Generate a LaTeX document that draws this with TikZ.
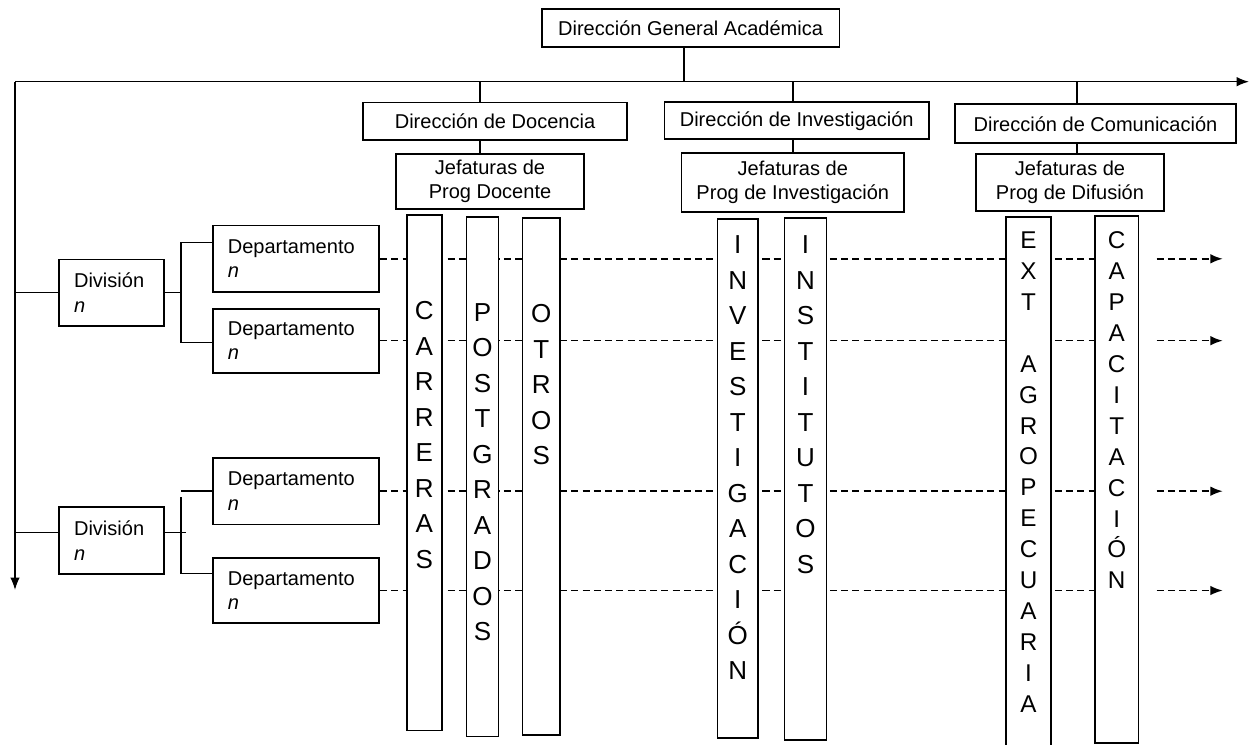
\documentclass[tikz,border=0pt]{standalone}
\usepackage{fontspec}
\setmainfont{Liberation Sans}
\usetikzlibrary{arrows.meta, backgrounds}
\tikzset{>={Latex[length=7pt, width=5.4pt]}}
\tikzset{
caja/.style = {draw, line width=1pt, fill=white, inner sep=0pt, align=center, font=\fontsize{11.4}{14}\selectfont},
cajaizq/.style = {caja, align=left},
columna/.style = {draw, line width=1pt, fill=white, inner sep=0pt},
letras/.style = {inner sep=0pt, align=center, anchor=north, font=\fontsize{14.8}{20.2}\selectfont},
letrasch/.style = {letras, font=\fontsize{13.8}{17.6}\selectfont},
punteada/.style = {dash pattern=on 4pt off 2.4pt, line width=0.9pt}
}
\begin{document}
\begin{tikzpicture}[x=0.02cm, y=-0.02cm, line width=0.9pt]
\useasboundingbox (0,0) rectangle (1250,744);
% direcciones
\node[caja, minimum width=5.96cm, minimum height=0.75cm] (dga) at (690.6,28) {Dirección General Académica};
\node[caja, minimum width=5.29cm, minimum height=0.75cm] (doc) at (495,121.2) {Dirección de Docencia};
\node[caja, minimum width=5.29cm, minimum height=0.74cm] (inv) at (796.7,120.8) {Dirección de Investigación};
\node[caja, minimum width=5.62cm, minimum height=0.78cm] (com) at (1095.5,123.8) {Dirección de Comunicación};
\node[caja, minimum width=3.77cm, minimum height=1.1cm] (jdoc) at (490,181.5) {Jefaturas de\\Prog Docente};
\node[caja, minimum width=4.45cm, minimum height=1.19cm] (jinv) at (792.8,182.5) {Jefaturas de\\Prog de Investigación};
\node[caja, minimum width=3.77cm, minimum height=1.14cm] (jcom) at (1070,182.5) {Jefaturas de\\Prog de Difusión};
% barra principal
\coordinate (izq) at (15,81.7);
\coordinate (der) at (1249,81.7);
\coordinate (fin) at (15,590);
\draw[->] (izq) -- (der);
\draw[->] (izq) -- (fin);
\coordinate (p0) at (684,81.7);
\coordinate (p1) at (480,81.7);
\coordinate (p2) at (793,81.7);
\coordinate (p3) at (1076.7,81.7);
\draw (dga.south -| p0) -- (p0);
\draw (p1) -- (p1 |- doc.north) (p1 |- doc.south) -- (p1 |- jdoc.north);
\draw (p2) -- (p2 |- inv.north) (p2 |- inv.south) -- (p2 |- jinv.north);
\draw (p3) -- (p3 |- com.north) (p3 |- com.south) -- (p3 |- jcom.north);
% divisiones y departamentos
\node[cajaizq, text width=1.51cm, minimum width=2.1cm, minimum height=1.33cm] (div1) at (111.8,292.7) {División\\\textit{n}};
\node[cajaizq, text width=1.51cm, minimum width=2.1cm, minimum height=1.33cm] (div2) at (111.8,540.5) {División\\\textit{n}};
\node[cajaizq, text width=2.74cm, minimum width=3.32cm, minimum height=1.33cm] (dep1) at (296.3,258.8) {Departamento\\\textit{n}};
\node[cajaizq, text width=2.74cm, minimum width=3.32cm, minimum height=1.28cm] (dep2) at (296.3,340.7) {Departamento\\\textit{n}};
\node[cajaizq, text width=2.74cm, minimum width=3.32cm, minimum height=1.33cm] (dep3) at (296.3,491.2) {Departamento\\\textit{n}};
\node[cajaizq, text width=2.74cm, minimum width=3.32cm, minimum height=1.31cm] (dep4) at (296.3,590.5) {Departamento\\\textit{n}};
\coordinate (e2) at (15,532.3);
\coordinate (r1) at (181,242.7);
\coordinate (r2) at (181,342.3);
\coordinate (r3) at (181,491);
\coordinate (r4) at (181,497.3);
\coordinate (r5) at (181,573.3);
\coordinate (s2) at (185.7,532.3);
\draw (izq |- div1.west) -- (div1.west);
\draw (e2) -- (e2 -| div2.west);
\draw (div1.east) -- (div1.east -| r1);
\draw (r1 -| dep1.west) -- (r1) -- (r2) -- (r2 -| dep2.west);
\draw (s2 -| div2.east) -- (s2);
\draw (r3) -- (r3 -| dep3.west);
\draw (r4) -- (r5) -- (r5 -| dep4.west);
% columnas
\node[columna, minimum width=0.70cm, minimum height=10.31cm] (carreras) at (424.2,472.8) {};
\node[columna, minimum width=0.64cm, minimum height=10.39cm] (postgrados) at (482.6,476.8) {};
\node[columna, minimum width=0.75cm, minimum height=10.34cm] (otros) at (541.3,476.5) {};
\node[columna, minimum width=0.81cm, minimum height=10.38cm] (investigacion) at (737.7,478.5) {};
\node[columna, minimum width=0.84cm, minimum height=10.44cm] (institutos) at (805.5,479) {};
\node[columna, minimum width=0.90cm, minimum height=10.58cm] (ext) at (1028.5,481.5) {};
\node[columna, minimum width=0.87cm, minimum height=10.54cm] (capacitacion) at (1116.7,479.2) {};
\node[letras] (tcarreras) at (424.2,301) {C\\A\\R\\R\\E\\R\\A\\S};
\node[letras] (tpostgrados) at (482.6,302.4) {P\\O\\S\\T\\G\\R\\A\\D\\O\\S};
\node[letras] (totros) at (541.3,304) {O\\T\\R\\O\\S};
\node[letras] (tinvestigacion) at (737.7,235) {I\\N\\V\\E\\S\\T\\I\\G\\A\\C\\I\\Ó\\N};
\node[letras] (tinstitutos) at (805.5,235) {I\\N\\S\\T\\I\\T\\U\\T\\O\\S};
\node[letrasch] (text) at (1028.5,231) {E\\X\\T\\~\\A\\G\\R\\O\\P\\E\\C\\U\\A\\R\\I\\A};
\node[letrasch] (tcapacitacion) at (1116.7,231) {C\\A\\P\\A\\C\\I\\T\\A\\C\\I\\Ó\\N};
% lineas punteadas
\coordinate (fa) at (1156.7,0);
\coordinate (fb) at (1222.7,0);
\begin{scope}[on background layer]
\foreach \d in {dep1, dep2, dep3, dep4}
  \draw[punteada] (\d.east) -- (\d.east -| capacitacion.west);
\end{scope}
\foreach \d in {dep1, dep2, dep3, dep4}
  \draw[punteada, ->] (\d.east -| fa) -- (\d.east -| fb);
\end{tikzpicture}
\end{document}
